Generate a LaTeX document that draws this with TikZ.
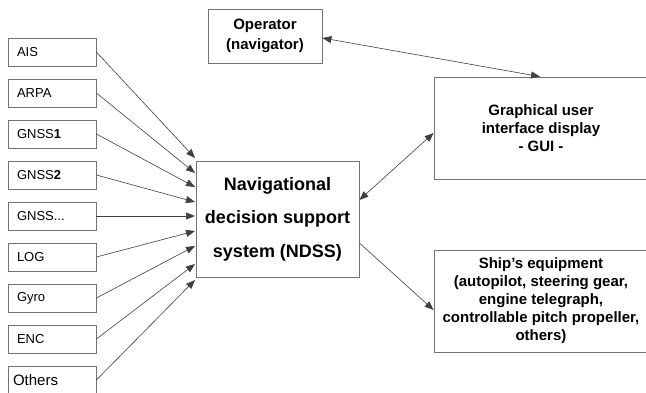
\documentclass[tikz,border=0pt]{standalone}
\usepackage{fontspec}
\setmainfont{Liberation Sans}
\usetikzlibrary{arrows.meta}
\begin{document}
\begin{tikzpicture}[x=1pt,y=-1pt,
  box/.style={draw=black!55, line width=0.8pt, inner sep=0pt},
  src/.style={box, minimum width=88pt, minimum height=28pt, text width=70pt,
    inner xsep=9pt, align=left, font=\fontsize{13}{15}\selectfont},
  bigbox/.style={box, align=center, font=\bfseries\fontsize{15}{18}\selectfont},
  arr/.style={draw=black!75, line width=0.6pt, -{Triangle[length=9pt,width=7pt]}},
  darr/.style={draw=black!75, line width=0.6pt, {Triangle[length=9pt,width=7pt]}-{Triangle[length=9pt,width=7pt]}}]
\useasboundingbox (0,0) rectangle (646,392);
\fill[white] (0,0) rectangle (646,392);
% input boxes
\node[src] (ais) at (52,52) {AIS};
\node[src] (arpa) at (52,93) {ARPA};
\node[src] (gnssa) at (52,134) {GNSS\textbf{1}};
\node[src] (gnssb) at (52,175) {GNSS\textbf{2}};
\node[src] (gnssc) at (52,216) {GNSS...};
\node[src] (log) at (52,257) {LOG};
\node[src] (gyro) at (52,298) {Gyro};
\node[src] (enc) at (52,339) {ENC};
\node[src, text width=78pt, inner xsep=5pt, font=\fontsize{15}{17}\selectfont] (oth) at (52,380) {Others};
% main boxes
\node[box, minimum width=163pt, minimum height=116pt, align=center,
  font=\bfseries\fontsize{18}{33.5}\selectfont] (ndss) at (277.5,219)
  {Navigational\\decision support\\system (NDSS)};
\node[bigbox, minimum width=114pt, minimum height=54pt, font=\bfseries\fontsize{15}{20}\selectfont] (op) at (265,36) {Operator\\(navigator)};
\node[bigbox, minimum width=214pt, minimum height=102pt] (gui) at (541,128)
  {Graphical user\\interface display\\- GUI -};
\node[bigbox, minimum width=214pt, minimum height=102pt] (ship) at (541,301)
  {Ship’s equipment\\(autopilot, steering gear,\\engine telegraph,\\controllable pitch propeller,\\others)};
% arrow tips on NDSS
\coordinate (t1) at (195,158);
\coordinate (t2) at (195,173);
\coordinate (t3) at (195,187);
\coordinate (t4) at (195,202);
\coordinate (t5) at (195,216);
\coordinate (t6) at (195,231);
\coordinate (t7) at (195,246);
\coordinate (t8) at (195,264);
\coordinate (t9) at (195,280);
\draw[arr] (ais.east) -- (t1);
\draw[arr] (arpa.east) -- (t2);
\draw[arr] (gnssa.east) -- (t3);
\draw[arr] (gnssb.east) -- (t4);
\draw[arr] (gnssc.east) -- (t5);
\draw[arr] (log.east) -- (t6);
\draw[arr] (gyro.east) -- (t7);
\draw[arr] (enc.east) -- (t8);
\draw[arr] (oth.east) -- (t9);
% other connectors
\draw[darr] ([yshift=19pt]ndss.east) -- ([yshift=-5pt]gui.west);
\draw[arr] ([yshift=-24pt]ndss.east) -- ([yshift=-9pt]ship.west);
\draw[darr] ([yshift=-2pt]op.east) -- ([xshift=-1pt]gui.north);
\end{tikzpicture}
\end{document}
